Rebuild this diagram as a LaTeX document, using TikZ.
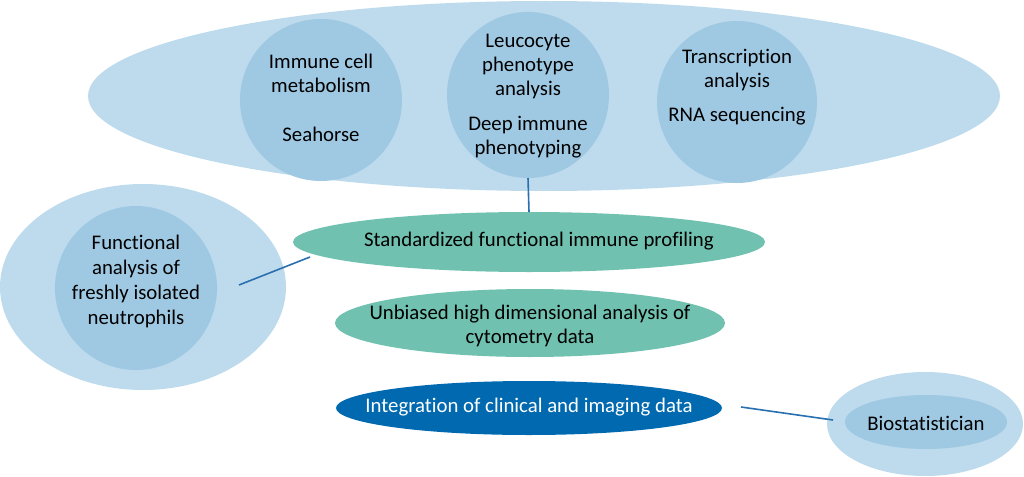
\documentclass[tikz,border=0pt]{standalone}
\usepackage{fontspec}
\setmainfont[Ligatures=NoCommon]{Carlito}
\usetikzlibrary{shapes.geometric}
\definecolor{outerblue}{HTML}{BDDBEC}
\definecolor{innerblue}{HTML}{9FC9E3}
\definecolor{greenfill}{HTML}{70C1B0}
\definecolor{darkblue}{HTML}{0069AF}
\definecolor{linkblue}{HTML}{2A6FB0}
\begin{document}
\begin{tikzpicture}[x=1pt,y=-1pt,
  every node/.style={inner sep=0pt, outer sep=0pt},
  outerell/.style={ellipse, fill=outerblue, draw=none},
  innerell/.style={ellipse, fill=innerblue, draw=none},
  greenell/.style={ellipse, fill=greenfill, draw=none},
  blueell/.style={ellipse, fill=darkblue, draw=none},
  lbl/.style={align=center, font=\fontsize{20.8}{24}\selectfont, text=black},
  link/.style={draw=linkblue, line width=1.6pt}]
\useasboundingbox (0,0) rectangle (1024,476);
% top group
\node[outerell, minimum width=912, minimum height=190] (top) at (544,96) {};
\node[innerell, minimum width=162, minimum height=162] (c1) at (321,100) {};
\node[innerell, minimum width=162, minimum height=166] (c2) at (528,95) {};
\node[innerell, minimum width=160, minimum height=162] (c3) at (737,102) {};
\node[lbl] (t1) at (321,98) {Immune cell\\metabolism\\[25pt]Seahorse};
\node[lbl] (t2) at (528,96) {Leucocyte\\phenotype\\analysis\\[11pt]Deep immune\\phenotyping};
\node[lbl] (t3) at (737,87) {Transcription\\analysis\\[10pt]RNA sequencing};
% left group
\node[outerell, minimum width=286, minimum height=206] (left) at (143,287) {};
\node[innerell, minimum width=162, minimum height=164] (nc) at (136,288) {};
\node[lbl, font=\fontsize{20.8}{25}\selectfont] (nt) at (136,281) {Functional\\analysis of\\freshly isolated\\neutrophils};
% green ellipses
\node[greenell, minimum width=472, minimum height=60] (g1) at (529,242) {};
\node[lbl] (g1t) at (539,241) {Standardized functional immune profiling};
\node[greenell, minimum width=390, minimum height=68] (g2) at (530,323) {};
\node[lbl] (g2t) at (530,326) {Unbiased high dimensional analysis of\\cytometry data};
% dark blue
\node[blueell, minimum width=386, minimum height=54] (b1) at (529,408) {};
\node[lbl, text=white] (b1t) at (529,407) {Integration of clinical and imaging data};
% right group
\node[outerell, minimum width=196, minimum height=104] (right) at (925,424) {};
\node[innerell, minimum width=162, minimum height=54] (bio) at (926,422) {};
\node[lbl] (biot) at (926,423) {Biostatistician};
% connectors
\coordinate (la) at (239,285);
\coordinate (lb) at (310,257);
\coordinate (ra) at (741,407);
\coordinate (rb) at (833,420);
\draw[link] (c2.south) -- (g1.north);
\draw[link] (la) -- (lb);
\draw[link] (ra) -- (rb);
\end{tikzpicture}
\end{document}
